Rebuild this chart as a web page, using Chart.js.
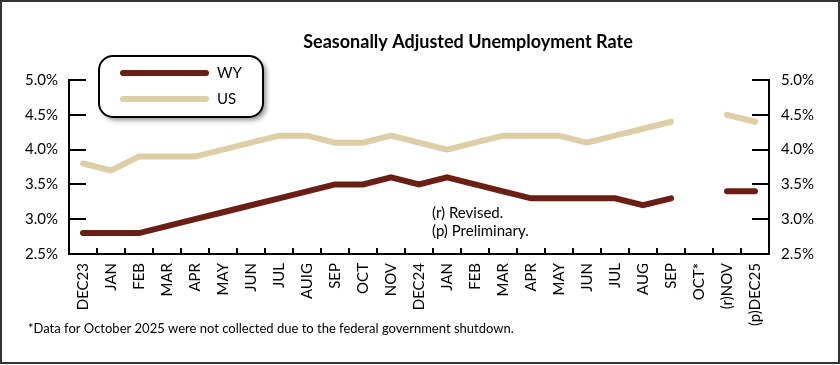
<!DOCTYPE html>
<html>
<head>
<meta charset="utf-8">
<script src="https://cdn.jsdelivr.net/npm/chart.js@4.4.1/dist/chart.umd.min.js"></script>
<style>
  html, body { margin: 0; padding: 0; background: #fff; }
  #wrap { position: relative; width: 840px; height: 365px; }
</style>
</head>
<body>
<div id="wrap"><canvas id="rateChart" width="840" height="365"></canvas></div>
<script>
/* ── DATA ──────────────────────────────────────────────────── */
const months = ['DEC23', 'JAN', 'FEB', 'MAR', 'APR', 'MAY', 'JUN', 'JUL', 'AUIG', 'SEP', 'OCT', 'NOV',
                'DEC24', 'JAN', 'FEB', 'MAR', 'APR', 'MAY', 'JUN', 'JUL', 'AUG', 'SEP', 'OCT*', '(r)NOV', '(p)DEC25'];
const wyRate = [2.8, 2.8, 2.8, 2.9, 3.0, 3.1, 3.2, 3.3, 3.4, 3.5, 3.5, 3.6,
                3.5, 3.6, 3.5, 3.4, 3.3, 3.3, 3.3, 3.3, 3.2, 3.3, null, 3.4, 3.4];
const usRate = [3.8, 3.7, 3.9, 3.9, 3.9, 4.0, 4.1, 4.2, 4.2, 4.1, 4.1, 4.2,
                4.1, 4.0, 4.1, 4.2, 4.2, 4.2, 4.1, 4.2, 4.3, 4.4, null, 4.5, 4.4];
const yTicks = [2.5, 3.0, 3.5, 4.0, 4.5, 5.0];

const FONT = 'Lato, "Open Sans", sans-serif';
const WY_COLOR = '#6b1f14';
const US_COLOR = '#ddcfa5';
const TITLE = 'Seasonally Adjusted Unemployment Rate';

/* ── DECORATIONS (title, border, inward ticks, legend, notes) ── */
function roundRect(ctx, x, y, w, h, r) {
  ctx.beginPath();
  ctx.moveTo(x + r, y);
  ctx.arcTo(x + w, y, x + w, y + h, r);
  ctx.arcTo(x + w, y + h, x, y + h, r);
  ctx.arcTo(x, y + h, x, y, r);
  ctx.arcTo(x, y, x + w, y, r);
  ctx.closePath();
}

const decorPlugin = {
  id: 'decor',
  afterDraw(chart) {
    const ctx = chart.ctx;
    const xs = chart.scales.x, yl = chart.scales.y;
    const area = chart.chartArea;
    ctx.save();

    // title (sits right of the plot centre in the original)
    ctx.fillStyle = '#000';
    ctx.font = 'bold 18px ' + FONT;
    ctx.textAlign = 'center';
    ctx.textBaseline = 'middle';
    ctx.fillText(TITLE, 468, 42);
    ctx.textAlign = 'left';

    // inward tick marks
    ctx.strokeStyle = '#000';
    ctx.lineWidth = 2;
    ctx.beginPath();
    yTicks.forEach(v => {
      const py = Math.round(yl.getPixelForValue(v));
      ctx.moveTo(area.left, py); ctx.lineTo(area.left + 17, py);
      ctx.moveTo(area.right, py); ctx.lineTo(area.right - 17, py);
    });
    for (let i = 1; i < months.length; i++) {
      const px = Math.round((xs.getPixelForValue(i - 1) + xs.getPixelForValue(i)) / 2);
      ctx.moveTo(px, area.bottom); ctx.lineTo(px, area.bottom - 6);
    }
    ctx.stroke();

    // legend box
    ctx.save();
    ctx.shadowColor = 'rgba(0,0,0,0.45)';
    ctx.shadowBlur = 5;
    ctx.shadowOffsetX = 3;
    ctx.shadowOffsetY = 3;
    roundRect(ctx, 99, 56, 164, 61, 14);
    ctx.fillStyle = '#fff';
    ctx.fill();
    ctx.restore();
    roundRect(ctx, 99, 56, 164, 61, 14);
    ctx.lineWidth = 2;
    ctx.strokeStyle = '#000';
    ctx.stroke();

    ctx.lineCap = 'round';
    ctx.lineWidth = 6;
    ctx.font = '15px ' + FONT;
    ctx.textBaseline = 'middle';
    chart.data.datasets.forEach((ds, i) => {
      const ly = 73 + i * 26;
      ctx.strokeStyle = ds.borderColor;
      ctx.beginPath(); ctx.moveTo(123, ly); ctx.lineTo(206, ly); ctx.stroke();
      ctx.fillStyle = '#000';
      ctx.fillText(ds.label, 217, ly);
    });

    // notes
    ctx.font = '15px ' + FONT;
    ctx.fillText('(r) Revised.', 432, 213);
    ctx.fillText('(p) Preliminary.', 432, 231);
    ctx.font = '13px ' + FONT;
    ctx.fillText('*Data for October 2025 were not collected due to the federal government shutdown.', 28, 329);

    // outer border
    ctx.lineWidth = 2;
    ctx.strokeStyle = '#333';
    ctx.strokeRect(1, 1, 838, 362);
    ctx.restore();
  }
};

/* ── CHART ─────────────────────────────────────────────────── */
new Chart(document.getElementById('rateChart'), {
  type: 'line',
  data: {
    labels: months,
    datasets: [
      { label: 'WY', data: wyRate, borderColor: WY_COLOR, backgroundColor: WY_COLOR, yAxisID: 'y' },
      { label: 'US', data: usRate, borderColor: US_COLOR, backgroundColor: US_COLOR, yAxisID: 'y' }
    ]
  },
  options: {
    responsive: false, animation: false,
    layout: { padding: { top: 80, left: 0, right: 0, bottom: 0 } },
    elements: {
      line: { borderWidth: 6, borderCapStyle: 'round', borderJoinStyle: 'miter', tension: 0 },
      point: { radius: 0, hoverRadius: 0 }
    },
    spanGaps: false,
    plugins: {
      legend: { display: false },
      tooltip: { enabled: false },
      title: { display: false }
    },
    scales: {
      x: {
        offset: true,
        grid: { display: false, drawTicks: false },
        border: { display: true, color: '#000', width: 2 },
        ticks: { color: '#000', font: { family: FONT, size: 15 }, minRotation: 90, maxRotation: 90, padding: 9, autoSkip: false },
        afterFit: s => { s.height = 111; }
      },
      y: {
        position: 'left', min: 2.5, max: 5.0,
        grid: { display: false, drawTicks: false },
        border: { display: true, color: '#000', width: 2 },
        ticks: { stepSize: 0.5, color: '#000', padding: 11, font: { family: FONT, size: 15 }, callback: v => v.toFixed(1) + '%' },
        afterFit: s => { s.width = 69; }
      },
      y2: {
        position: 'right', min: 2.5, max: 5.0,
        grid: { display: false, drawTicks: false },
        border: { display: true, color: '#000', width: 2 },
        ticks: { stepSize: 0.5, color: '#000', padding: 12, font: { family: FONT, size: 15 }, callback: v => v.toFixed(1) + '%' },
        afterFit: s => { s.width = 71; }
      }
    }
  },
  plugins: [decorPlugin]
});
</script>
</body>
</html>
